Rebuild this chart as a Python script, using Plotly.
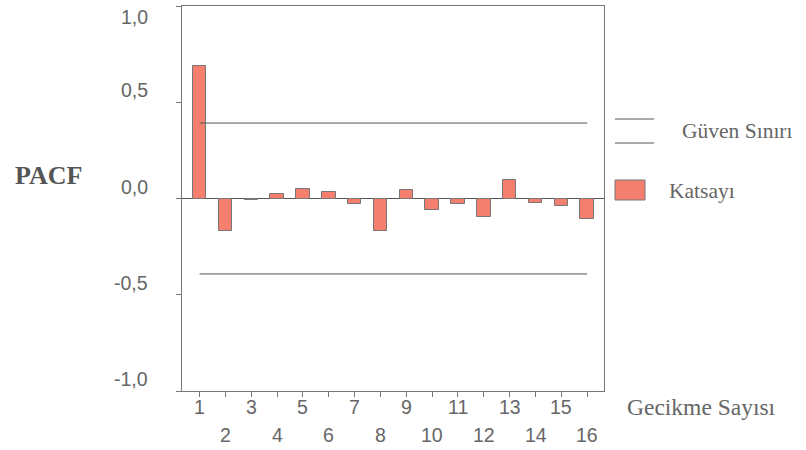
import plotly.graph_objects as go

lags = list(range(1, 17))
pacf = [0.687, -0.170, -0.010, 0.026, 0.048, 0.034, -0.031, -0.170,
        0.046, -0.062, -0.031, -0.094, 0.094, -0.023, -0.039, -0.108]
conf_limit = 0.392
y_ticks = [1.0, 0.5, 0.0, -0.5, -1.0]
y_ticktext = ["1,0", "0,5", "0,0", "-0,5", "-1,0"]
x_ticktext = [str(l) for l in lags]

W, H = 806, 450
L, R, T, B = 182, 202, 6, 59
pw, ph = W - L - R, H - T - B

def px(x):
    return (x - L) / pw

def py(y):
    return (H - B - y) / ph

grey = "#666666"
bar_color = "#F57F6E"
sans = "Liberation Sans, Arial"
serif = "Liberation Serif, Times New Roman"

fig = go.Figure()
fig.add_trace(go.Bar(x=lags, y=pacf, width=0.52,
                     marker=dict(color=bar_color, line=dict(color="#777777", width=1)),
                     showlegend=False))
fig.add_trace(go.Scatter(x=[lags[0], lags[-1]], y=[conf_limit, conf_limit], mode="lines",
                         line=dict(color="#555555", width=1), showlegend=False))
fig.add_trace(go.Scatter(x=[lags[0], lags[-1]], y=[-conf_limit, -conf_limit], mode="lines",
                         line=dict(color="#555555", width=1), showlegend=False))

fig.update_layout(
    width=W, height=H,
    margin=dict(l=L, r=R, t=T, b=B, pad=0, autoexpand=False),
    paper_bgcolor="white", plot_bgcolor="white",
    bargap=0,
    xaxis=dict(range=[0.32, 16.65], tickmode="array", tickvals=lags, ticktext=[""] * len(lags),
               showline=True, linecolor="#777777", linewidth=1, mirror=True,
               ticks="outside", ticklen=5, tickcolor="#777777", showgrid=False,
               zeroline=False, automargin=False),
    yaxis=dict(range=[-1.0, 1.0], tickmode="array", tickvals=y_ticks, ticktext=[""] * len(y_ticks),
               showline=True, linecolor="#777777", linewidth=1, mirror=True,
               ticks="outside", ticklen=5, tickcolor="#777777", showgrid=False,
               zeroline=True, zerolinecolor="#555555", zerolinewidth=1,
               automargin=False),
)

annotations = []
# y tick labels, drawn slightly above their ticks (top one below) as in the scan
for v, t in zip(y_ticks, y_ticktext):
    annotations.append(dict(text=t, x=0, y=v, xref="paper", yref="y", showarrow=False,
                            xanchor="right", yanchor="middle", xshift=-32,
                            yshift=(-11 if v == y_ticks[0] else 12),
                            font=dict(family=sans, size=19.5, color=grey)))
# x tick labels in two staggered rows
for l, t in zip(lags, x_ticktext):
    annotations.append(dict(text=t, x=l, y=0, xref="x", yref="paper", showarrow=False,
                            xanchor="center", yanchor="middle",
                            yshift=(-16 if l % 2 == 1 else -44),
                            font=dict(family=sans, size=19.5, color=grey)))

annotations += [
    dict(text="<b>PACF</b>", x=px(48), y=py(175), xref="paper", yref="paper",
         showarrow=False, xanchor="center", yanchor="middle",
         font=dict(family=serif, size=26, color="#555555")),
    dict(text="Gecikme Sayısı", x=px(625), y=py(407), xref="paper", yref="paper",
         showarrow=False, xanchor="left", yanchor="middle",
         font=dict(family=serif, size=23.5, color=grey)),
    dict(text="Güven Sınırı", x=px(680), y=py(131), xref="paper", yref="paper",
         showarrow=False, xanchor="left", yanchor="middle",
         font=dict(family=serif, size=21.5, color=grey)),
    dict(text="Katsayı", x=px(667), y=py(191), xref="paper", yref="paper",
         showarrow=False, xanchor="left", yanchor="middle",
         font=dict(family=serif, size=21.5, color=grey)),
]
shapes = [
    dict(type="line", xref="paper", yref="paper", x0=px(615), x1=px(654), y0=py(119), y1=py(119),
         line=dict(color="#555555", width=1)),
    dict(type="line", xref="paper", yref="paper", x0=px(615), x1=px(654), y0=py(143), y1=py(143),
         line=dict(color="#555555", width=1)),
    dict(type="rect", xref="paper", yref="paper", x0=px(615), x1=px(645), y0=py(180), y1=py(200),
         fillcolor=bar_color, line=dict(color="#777777", width=1)),
]
fig.update_layout(annotations=annotations, shapes=shapes)

fig.write_html("out.html", config={"displayModeBar": False},
               post_script="document.body.style.margin='0';document.body.style.overflow='hidden';")
